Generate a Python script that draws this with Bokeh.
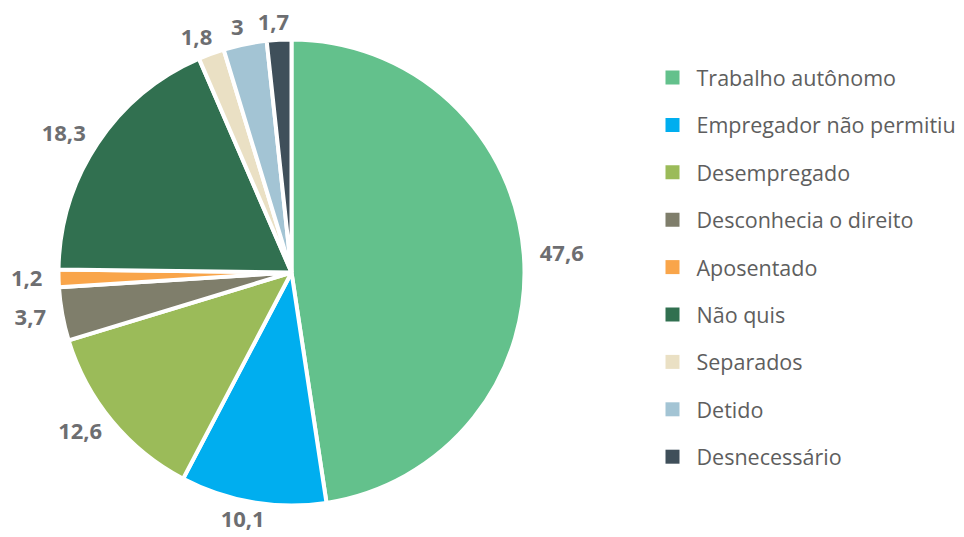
import math
from bokeh.plotting import figure
from bokeh.models import Range1d, ColumnDataSource
from bokeh.core.properties import value
from bokeh.embed import file_html
from bokeh.resources import INLINE

categories = ["Trabalho autônomo", "Empregador não permitiu", "Desempregado",
              "Desconhecia o direito", "Aposentado", "Não quis", "Separados",
              "Detido", "Desnecessário"]
values = [47.6, 10.1, 12.6, 3.7, 1.2, 18.3, 1.8, 3.0, 1.7]
labels = ["47,6", "10,1", "12,6", "3,7", "1,2", "18,3", "1,8", "3", "1,7"]
colors = ["#63C18C", "#00AEEF", "#9BBB59", "#7F7E6B", "#F9A54A",
          "#317050", "#EAE0C4", "#A3C4D4", "#3F4F5A"]

W, H = 964, 537
p = figure(width=W, height=H, output_backend="svg", toolbar_location=None,
           x_range=Range1d(0, W), y_range=Range1d(0, H), min_border=0)
p.axis.visible = False
p.grid.visible = False
p.outline_line_color = None
p.background_fill_color = "white"

cx, cy, R = 291, H - 272, 233
total = sum(values)
starts, ends, lx, ly = [], [], [], []
cum = 0.0
for v, lab in zip(values, labels):
    a0 = math.pi / 2 - 2 * math.pi * cum / total
    cum += v
    a1 = math.pi / 2 - 2 * math.pi * cum / total
    starts.append(a0)
    ends.append(a1)
    mid = (a0 + a1) / 2
    dx, dy = math.cos(mid), math.sin(mid)
    rl = 246
    w = len(lab) * 12.5
    lx.append(cx + rl * dx + (w / 2) * dx - 4 * abs(dy) * (1 if dx < 0 else 0))
    ly.append(cy + rl * dy + 4 * dy)

src = ColumnDataSource(dict(start=starts, end=ends, color=colors, cat=categories))
p.wedge(x=cx, y=cy, radius=R, start_angle="start", end_angle="end",
        direction="clock", fill_color="color", line_color="white",
        line_width=4, source=src)

p.text(x=lx, y=ly, text=labels, text_font=value("Open Sans"),
       text_font_style="bold", text_font_size="22px", text_color="#6D6E71",
       text_align="center", text_baseline="middle")

# legend
leg_y = [H - (77 + i * 47.4) for i in range(len(categories))]
p.rect(x=[672] * len(categories), y=leg_y, width=14, height=14,
       fill_color=colors, line_color=None)
p.text(x=[696] * len(categories), y=leg_y, text=categories,
       text_font=value("Open Sans"), text_font_size="21.5px",
       text_color="#5E5E5E", text_align="left", text_baseline="middle")

open("out.html", "w").write(file_html(p, INLINE))
